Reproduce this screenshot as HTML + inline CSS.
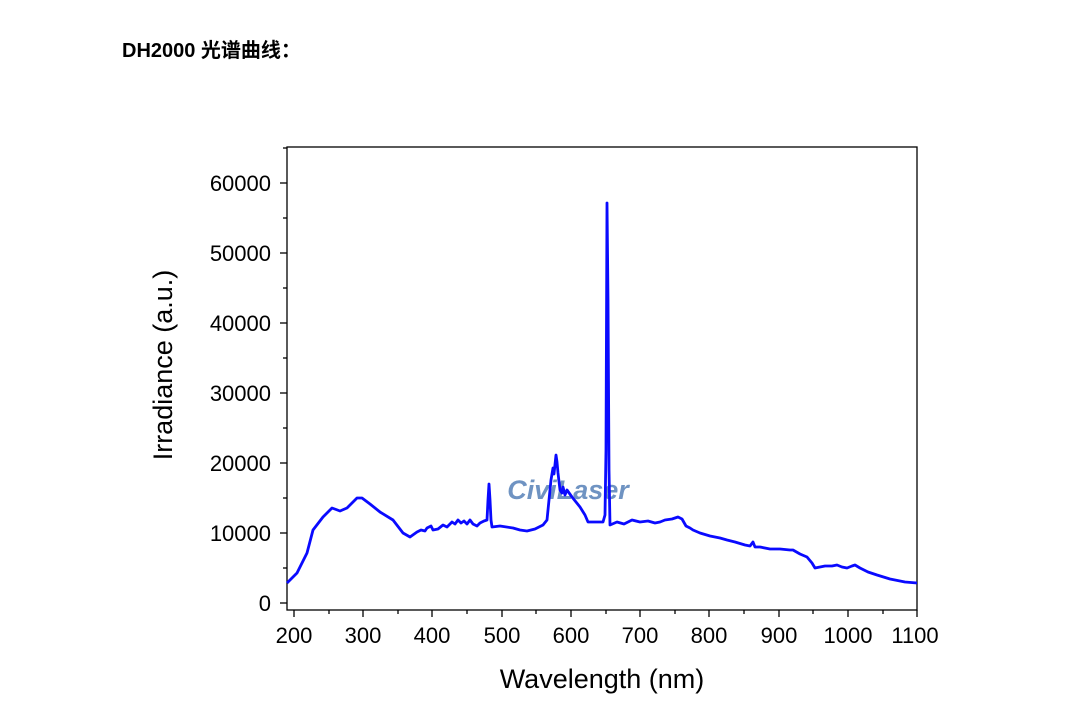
<!DOCTYPE html>
<html><head><meta charset="utf-8"><style>
body{margin:0;background:#fff;width:1070px;height:720px;overflow:hidden}
</style></head><body>
<svg width="1070" height="720" xmlns="http://www.w3.org/2000/svg" font-family="Liberation Sans, sans-serif">
<text x="122" y="57" font-size="20" font-weight="bold" font-family="Liberation Sans, Noto Sans CJK SC, sans-serif">DH2000 光谱曲线：</text>
<rect x="287" y="147" width="630" height="463" fill="none" stroke="#000" stroke-width="1.3"/>
<g stroke="#000" stroke-width="1.3">
<line x1="294" y1="610" x2="294" y2="617"/><line x1="363" y1="610" x2="363" y2="617"/><line x1="432" y1="610" x2="432" y2="617"/><line x1="502" y1="610" x2="502" y2="617"/><line x1="571" y1="610" x2="571" y2="617"/><line x1="640" y1="610" x2="640" y2="617"/><line x1="709" y1="610" x2="709" y2="617"/><line x1="779" y1="610" x2="779" y2="617"/><line x1="848" y1="610" x2="848" y2="617"/><line x1="917" y1="610" x2="917" y2="617"/>
<line x1="329" y1="610" x2="329" y2="614"/><line x1="398" y1="610" x2="398" y2="614"/><line x1="467" y1="610" x2="467" y2="614"/><line x1="536" y1="610" x2="536" y2="614"/><line x1="606" y1="610" x2="606" y2="614"/><line x1="675" y1="610" x2="675" y2="614"/><line x1="744" y1="610" x2="744" y2="614"/><line x1="813" y1="610" x2="813" y2="614"/><line x1="883" y1="610" x2="883" y2="614"/>
<line x1="280" y1="603" x2="287" y2="603"/><line x1="280" y1="533" x2="287" y2="533"/><line x1="280" y1="463" x2="287" y2="463"/><line x1="280" y1="393" x2="287" y2="393"/><line x1="280" y1="323" x2="287" y2="323"/><line x1="280" y1="253" x2="287" y2="253"/><line x1="280" y1="183" x2="287" y2="183"/>
<line x1="283" y1="568" x2="287" y2="568"/><line x1="283" y1="498" x2="287" y2="498"/><line x1="283" y1="428" x2="287" y2="428"/><line x1="283" y1="358" x2="287" y2="358"/><line x1="283" y1="288" x2="287" y2="288"/><line x1="283" y1="218" x2="287" y2="218"/><line x1="283" y1="148" x2="287" y2="148"/>
</g>
<g font-size="22" text-anchor="middle" fill="#000">
<text x="294" y="643">200</text><text x="363" y="643">300</text><text x="432" y="643">400</text><text x="502" y="643">500</text><text x="571" y="643">600</text><text x="640" y="643">700</text><text x="709" y="643">800</text><text x="779" y="643">900</text><text x="848" y="643">1000</text><text x="915" y="643">1100</text>
</g>
<g font-size="22" text-anchor="end" fill="#000">
<text x="271" y="611">0</text><text x="271" y="541">10000</text><text x="271" y="471">20000</text><text x="271" y="401">30000</text><text x="271" y="331">40000</text><text x="271" y="261">50000</text><text x="271" y="191">60000</text>
</g>
<text x="602" y="688" font-size="27" text-anchor="middle">Wavelength (nm)</text>
<text transform="translate(172,365) rotate(-90)" font-size="27" text-anchor="middle">Irradiance (a.u.)</text>
<text x="568" y="499" font-size="27" font-weight="bold" font-style="italic" fill="#6f93c2" text-anchor="middle">CiviLaser</text>
<polyline fill="none" stroke="#0a0aff" stroke-width="2.8" stroke-linejoin="round" points="287,583 297,573 307,553 313,530 323,517 332,508 340,511 347,508 357,498 362,498 370,504 380,512 393,520 403,533 410,537 417,532 421,530 425,531 427,528 431,526 433,530 438,529 443,525 447,527 452,522 455,524 458,520 461,523 464,521 467,524 470,520 473,524 477,526 480,523 484,521 487,520 488,500 489,484 490,500 491,520 492,527 500,526 513,528 520,530 527,531 535,529 543,525 547,520 549,500 551,480 553,468 554,474 556,455 557,462 558,473 560,490 562,493 563,487 565,495 567,490 572,497 580,507 585,515 588,522 598,522 603,522 605,515 606,450 607,203 608,300 609,470 610,525 617,522 624,524 632,520 640,522 648,521 655,523 660,522 665,520 672,519 678,517 682,519 686,526 690,528 693,530 700,533 710,536 720,538 727,540 735,542 745,545 750,546 753,542 755,547 760,547 770,549 780,549 790,550 793,550 800,554 807,557 812,563 815,568 825,566 832,566 837,565 842,567 847,568 852,566 855,565 860,568 868,572 877,575 890,579 905,582 917,583"/>
</svg>
</body></html>
